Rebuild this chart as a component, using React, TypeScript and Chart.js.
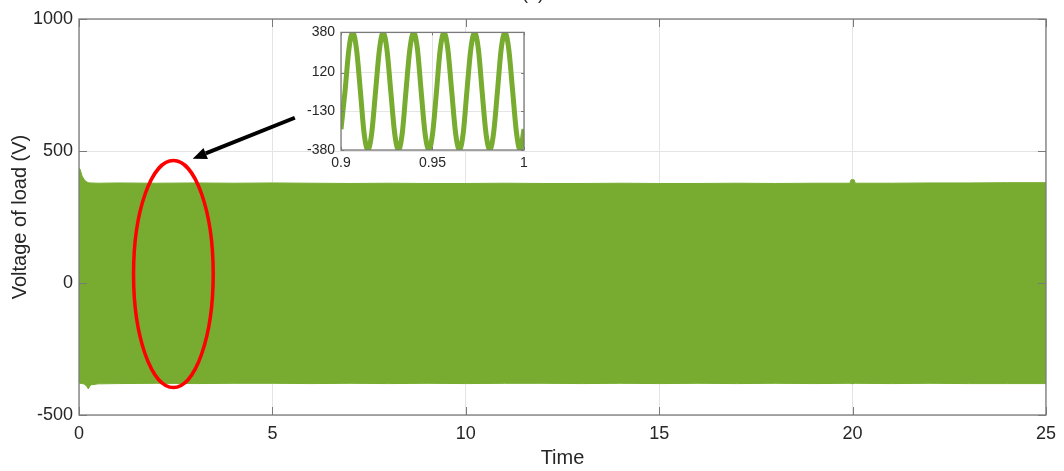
import React, { useEffect, useRef } from "react";
import { Chart, registerables } from "chart.js";

Chart.register(...registerables);

const GREEN = "#77AC30";
const FONT = "'Liberation Sans', Arial, Helvetica, sans-serif";
const TEXT = "#262626";
const AXIS = "#7a7a7a";
const GRID = "#e4e4e4";

// ---- main plot: envelope of the load voltage (V) over time (s) ----
const envTime = [0, 0.03, 0.08, 0.14, 0.2, 0.24, 0.3, 0.5, 1, 2, 3, 4, 5, 6, 7, 8, 9, 10, 11, 12, 13, 14, 15, 16, 17, 18, 19, 19.93, 19.96, 20.04, 20.07, 21, 22, 23, 24, 25];
const envUpper = [435, 430, 405, 390, 383, 380, 379, 378, 379, 378, 379, 378, 379, 378, 377, 378, 377, 377, 378, 377, 377, 378, 377, 377, 378, 377, 378, 378, 391, 391, 378, 378, 379, 379, 380, 380];
const envLower = [-378, -380, -381, -383, -392, -401, -386, -382, -381, -380, -381, -380, -380, -381, -380, -381, -380, -381, -380, -380, -381, -380, -381, -380, -381, -380, -381, -380, -381, -381, -380, -381, -380, -381, -381, -381];
const mainXTicks = [0, 5, 10, 15, 20, 25];
const mainYTicks = [-500, 0, 500, 1000];

// ---- inset: zoom 0.9 s .. 1 s ----
const insetTime = [0.9, 0.9022, 0.9043, 0.9064, 0.9085, 0.9106, 0.9126, 0.9147, 0.9168, 0.9189, 0.921, 0.923, 0.9251, 0.9272, 0.9293, 0.9314, 0.9335, 0.9355, 0.9376, 0.9397, 0.9418, 0.9438, 0.9459, 0.948, 0.9501, 0.9522, 0.9542, 0.9563, 0.9584, 0.9605, 0.9626, 0.9647, 0.9668, 0.9688, 0.9709, 0.973, 0.9751, 0.9771, 0.9792, 0.9813, 0.9834, 0.9855, 0.9875, 0.9896, 0.9917, 0.9938, 0.9959, 0.9979, 1.0];
const insetVolt = [-245, 0, 269, 380, 269, 0, -269, -380, -269, 0, 269, 380, 269, 0, -269, -380, -269, 0, 269, 380, 269, 0, -269, -380, -269, 0, 269, 380, 269, 0, -269, -380, -269, 0, 269, 380, 269, 0, -269, -380, -269, 0, 269, 380, 269, 0, -269, -380, -245];
const insetXTicks = [0.9, 0.95, 1];
const insetXLabels = ["0.9", "0.95", "1"];
const insetYTicks = [-380, -130, 120, 380];

// ---- annotations (data units) ----
const ellipseAnno = { t: 2.44, v: 34, rt: 1.03, rv: 430 };
const arrowAnno = { t0: 5.58, v0: 626, t1: 2.94, v1: 471 };
const titleText = "(a)";

function boxPlugin(id: string, tickLen: number) {
  return {
    id,
    afterDatasetsDraw(chart: any) {
      const { ctx, chartArea: a, scales } = chart;
      ctx.save();
      ctx.strokeStyle = AXIS;
      ctx.lineWidth = 1;
      ctx.beginPath();
      for (const t of scales.x.ticks) {
        const px = Math.round(scales.x.getPixelForValue(t.value)) + 0.5;
        ctx.moveTo(px, a.bottom);
        ctx.lineTo(px, a.bottom - tickLen);
        ctx.moveTo(px, a.top);
        ctx.lineTo(px, a.top + tickLen);
      }
      for (const t of scales.y.ticks) {
        const py = Math.round(scales.y.getPixelForValue(t.value)) + 0.5;
        ctx.moveTo(a.left, py);
        ctx.lineTo(a.left + tickLen, py);
        ctx.moveTo(a.right, py);
        ctx.lineTo(a.right - tickLen, py);
      }
      ctx.stroke();
      ctx.lineWidth = 1.3;
      ctx.strokeRect(a.left, a.top, a.right - a.left, a.bottom - a.top);
      ctx.restore();
    },
  };
}

const annoPlugin = {
  id: "annotations",
  afterDraw(chart: any) {
    const { ctx, scales } = chart;
    const x = scales.x;
    const y = scales.y;
    ctx.save();
    // ellipse
    const cx = x.getPixelForValue(ellipseAnno.t);
    const cy = y.getPixelForValue(ellipseAnno.v);
    const rx = Math.abs(x.getPixelForValue(ellipseAnno.t + ellipseAnno.rt) - cx);
    const ry = Math.abs(y.getPixelForValue(ellipseAnno.v + ellipseAnno.rv) - cy);
    ctx.strokeStyle = "#ff0000";
    ctx.lineWidth = 3.5;
    ctx.beginPath();
    ctx.ellipse(cx, cy, rx, ry, 0, 0, Math.PI * 2);
    ctx.stroke();
    // arrow
    const x0 = x.getPixelForValue(arrowAnno.t0);
    const y0 = y.getPixelForValue(arrowAnno.v0);
    const x1 = x.getPixelForValue(arrowAnno.t1);
    const y1 = y.getPixelForValue(arrowAnno.v1);
    const ang = Math.atan2(y1 - y0, x1 - x0);
    const headLen = 14;
    const headW = 6;
    const bx = x1 - headLen * Math.cos(ang);
    const by = y1 - headLen * Math.sin(ang);
    ctx.strokeStyle = "#000";
    ctx.fillStyle = "#000";
    ctx.lineWidth = 4;
    ctx.beginPath();
    ctx.moveTo(x0, y0);
    ctx.lineTo(bx, by);
    ctx.stroke();
    ctx.beginPath();
    ctx.moveTo(x1, y1);
    ctx.lineTo(bx + headW * Math.sin(ang), by - headW * Math.cos(ang));
    ctx.lineTo(bx - headW * Math.sin(ang), by + headW * Math.cos(ang));
    ctx.closePath();
    ctx.fill();
    // title (clipped at top of the figure)
    ctx.fillStyle = TEXT;
    ctx.font = `18px ${FONT}`;
    ctx.textAlign = "center";
    ctx.textBaseline = "alphabetic";
    ctx.fillText(titleText, 533, -1.5);
    ctx.restore();
  },
};

const insetBg = {
  id: "insetBg",
  beforeDraw(chart: any) {
    const { ctx, chartArea: a } = chart;
    ctx.save();
    ctx.fillStyle = "#fff";
    ctx.fillRect(a.left, a.top, a.right - a.left, a.bottom - a.top);
    ctx.restore();
  },
};

export default function App() {
  const mainRef = useRef<HTMLCanvasElement>(null);
  const insetRef = useRef<HTMLCanvasElement>(null);

  useEffect(() => {
    const main = new Chart(mainRef.current as HTMLCanvasElement, {
      type: "line",
      data: {
        datasets: [
          {
            data: envTime.map((t, i) => ({ x: t, y: envUpper[i] })),
            borderColor: GREEN,
            backgroundColor: GREEN,
            borderWidth: 1,
            pointRadius: 0,
            fill: "+1",
          },
          {
            data: envTime.map((t, i) => ({ x: t, y: envLower[i] })),
            borderColor: GREEN,
            backgroundColor: GREEN,
            borderWidth: 1,
            pointRadius: 0,
            fill: false,
          },
        ],
      },
      options: {
        animation: false,
        responsive: true,
        maintainAspectRatio: false,
        layout: { padding: { top: 19, right: 17, left: 0, bottom: 0 } },
        plugins: { legend: { display: false }, tooltip: { enabled: false }, title: { display: false } },
        scales: {
          x: {
            type: "linear",
            min: 0,
            max: 25,
            afterFit: (s: any) => { s.height = 56; },
            afterBuildTicks: (s: any) => { s.ticks = mainXTicks.map((v) => ({ value: v })); },
            ticks: { callback: (v: any) => String(v), color: TEXT, font: { family: FONT, size: 18 }, padding: 8, maxRotation: 0 },
            grid: { color: GRID, drawTicks: false },
            border: { display: false },
            title: { display: true, text: "Time", color: TEXT, font: { family: FONT, size: 20 }, padding: { top: 0, bottom: 1 } },
          },
          y: {
            type: "linear",
            min: -500,
            max: 1000,
            afterFit: (s: any) => { s.width = 79; },
            afterBuildTicks: (s: any) => { s.ticks = mainYTicks.map((v) => ({ value: v })); },
            ticks: { callback: (v: any) => String(v), color: TEXT, font: { family: FONT, size: 18 }, padding: 6 },
            grid: { color: GRID, drawTicks: false },
            border: { display: false },
            title: { display: true, text: "Voltage of load (V)", color: TEXT, font: { family: FONT, size: 20 }, padding: { top: 8, bottom: 0 } },
          },
        },
      },
      plugins: [boxPlugin("mainBox", 8), annoPlugin],
    } as any);

    const inset = new Chart(insetRef.current as HTMLCanvasElement, {
      type: "line",
      data: {
        datasets: [
          {
            data: insetTime.map((t, i) => ({ x: t, y: insetVolt[i] })),
            borderColor: GREEN,
            borderWidth: 5,
            pointRadius: 0,
            cubicInterpolationMode: "monotone",
            fill: false,
          },
        ],
      },
      options: {
        animation: false,
        responsive: true,
        maintainAspectRatio: false,
        layout: { padding: { top: 10, right: 16, left: 0, bottom: 0 } },
        plugins: { legend: { display: false }, tooltip: { enabled: false } },
        scales: {
          x: {
            type: "linear",
            min: 0.9,
            max: 1,
            afterFit: (s: any) => { s.height = 28; },
            afterBuildTicks: (s: any) => { s.ticks = insetXTicks.map((v) => ({ value: v })); },
            ticks: {
              callback: (v: any) => insetXLabels[insetXTicks.findIndex((t) => Math.abs(t - v) < 1e-6)] ?? String(v),
              color: TEXT, font: { family: FONT, size: 14 }, padding: 5, maxRotation: 0,
            },
            grid: { color: GRID, drawTicks: false },
            border: { display: false },
          },
          y: {
            type: "linear",
            min: -380,
            max: 380,
            afterFit: (s: any) => { s.width = 51; },
            afterBuildTicks: (s: any) => { s.ticks = insetYTicks.map((v) => ({ value: v })); },
            ticks: { callback: (v: any) => String(v), color: TEXT, font: { family: FONT, size: 14 }, padding: 6 },
            grid: { color: GRID, drawTicks: false },
            border: { display: false },
          },
        },
      },
      plugins: [insetBg, boxPlugin("insetBox", 3)],
    } as any);

    return () => {
      main.destroy();
      inset.destroy();
    };
  }, []);

  return (
    <div style={{ position: "fixed", left: 0, top: 0, width: 1064, height: 471, background: "#fff" }}>
      <div style={{ position: "absolute", left: 0, top: 0, width: 1064, height: 471 }}>
        <canvas ref={mainRef} />
      </div>
      <div style={{ position: "absolute", left: 290, top: 18, width: 250, height: 160 }}>
        <canvas ref={insetRef} />
      </div>
    </div>
  );
}
